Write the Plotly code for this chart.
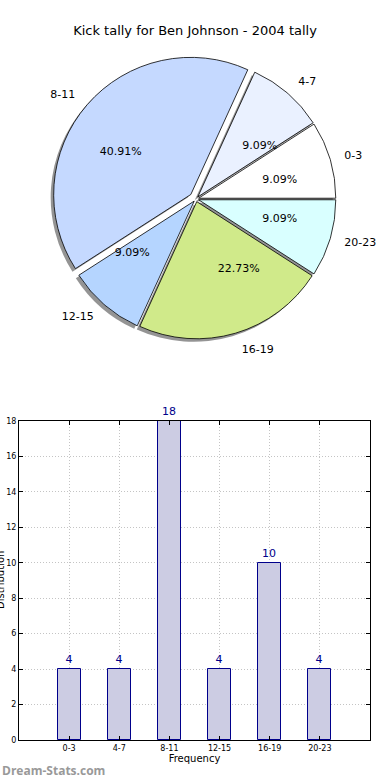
import plotly.graph_objects as go

# ---- data ----
categories = ["0-3", "4-7", "8-11", "12-15", "16-19", "20-23"]
pie_values = [2, 2, 9, 2, 5, 2]
bar_values = [4, 4, 18, 4, 10, 4]
pie_colors = ["#ffffff", "#eaf1ff", "#c5d9ff", "#b5d5ff", "#d0ea8a", "#d9ffff"]
pulls = [0.02, 0.02, 0.05, 0.02, 0.02, 0.02]
y_ticks = list(range(0, 19, 2))

title_text = "Kick tally for Ben Johnson - 2004 tally"
FONT = "DejaVu Sans"
W, H = 390, 780

# first slice starts at 3 o'clock, going counter-clockwise
start_rot = 90 - 360 * pie_values[0] / sum(pie_values)

# pie geometry (pixels)
cx, cy, half = 196, 199, 144


def dom(h, dx=0, dy=0):
    return dict(x=[(cx - h + dx) / W, (cx + h + dx) / W],
                y=[1 - (cy + h + dy) / H, 1 - (cy - h + dy) / H])


fig = go.Figure()

common = dict(labels=categories, values=pie_values, sort=False,
              direction="counterclockwise", rotation=start_rot, pull=pulls,
              automargin=False)

# shadow
fig.add_trace(go.Pie(
    **common, domain=dom(half, -3, 3),
    marker=dict(colors=["rgba(0,0,0,0.42)"] * 6, line=dict(width=0)),
    textinfo="none", hoverinfo="skip", showlegend=False,
))
# main slices
fig.add_trace(go.Pie(
    **common, domain=dom(half),
    marker=dict(colors=pie_colors, line=dict(color="black", width=0.8)),
    textinfo="none", showlegend=False,
))
# percentages (placed around 0.6 of the radius)
fig.add_trace(go.Pie(
    **common, domain=dom(half * 0.47),
    marker=dict(colors=["rgba(0,0,0,0)"] * 6, line=dict(width=0)),
    texttemplate="%{percent:.2%}", textposition="outside",
    outsidetextfont=dict(family=FONT, size=11, color="black"),
    hoverinfo="skip", showlegend=False,
))
# outside category labels
fig.add_trace(go.Pie(
    **common, domain=dom(half * 1.08),
    marker=dict(colors=["rgba(0,0,0,0)"] * 6, line=dict(width=0)),
    texttemplate="%{label}", textposition="outside",
    outsidetextfont=dict(family=FONT, size=11, color="black"),
    hoverinfo="skip", showlegend=False,
))

# bar chart
fig.add_trace(go.Bar(
    x=categories, y=bar_values, width=0.46,
    marker=dict(color="#ccccE3", line=dict(color="#00008b", width=1)),
    text=bar_values, textposition="outside", cliponaxis=False,
    textfont=dict(family=FONT, size=11, color="#00008b"),
    showlegend=False,
))

grid = dict(showgrid=True, gridcolor="#c4c4c4", griddash="1px,2px", gridwidth=1)
fig.update_layout(
    width=W, height=H, margin=dict(l=0, r=0, t=0, b=0, autoexpand=False),
    paper_bgcolor="white", plot_bgcolor="white",
    font=dict(family=FONT, color="black"),
    title=dict(text=title_text, x=0.5, xanchor="center", y=1 - 30 / H, yanchor="middle",
               font=dict(family=FONT, size=13, color="black")),
    xaxis=dict(domain=[19 / W, 370 / W], range=[-1, 6], type="category",
               showline=True, linecolor="black", linewidth=1, mirror="allticks",
               ticks="inside", ticklen=4, tickcolor="black",
               tickfont=dict(size=8), automargin=False,
               title=dict(text="Frequency", font=dict(size=10), standoff=0), **grid),
    yaxis=dict(domain=[(H - 740) / H, (H - 421) / H], range=[0, 18],
               tickvals=y_ticks, showline=True, linecolor="black", linewidth=1,
               mirror="allticks", ticks="inside", ticklen=4, tickcolor="black",
               tickfont=dict(size=8), automargin=False, zeroline=False, **grid),
    bargap=0,
    annotations=[
        dict(text="Distribution", textangle=-90, xref="paper", yref="paper",
             x=0, xanchor="center", y=(H - 580) / H, yanchor="middle",
             showarrow=False, font=dict(size=10, color="black")),
        dict(text="<b>Dream-Stats.com</b>", xref="paper", yref="paper",
             x=0, xanchor="left", y=(H - 770) / H, yanchor="middle",
             showarrow=False, font=dict(family="Open Sans", size=12, color="#999999")),
    ],
)

fig.write_html(
    "out.html", config={"displayModeBar": False},
    post_script="document.body.style.margin='0';"
                "document.documentElement.style.overflow='hidden';",
)
